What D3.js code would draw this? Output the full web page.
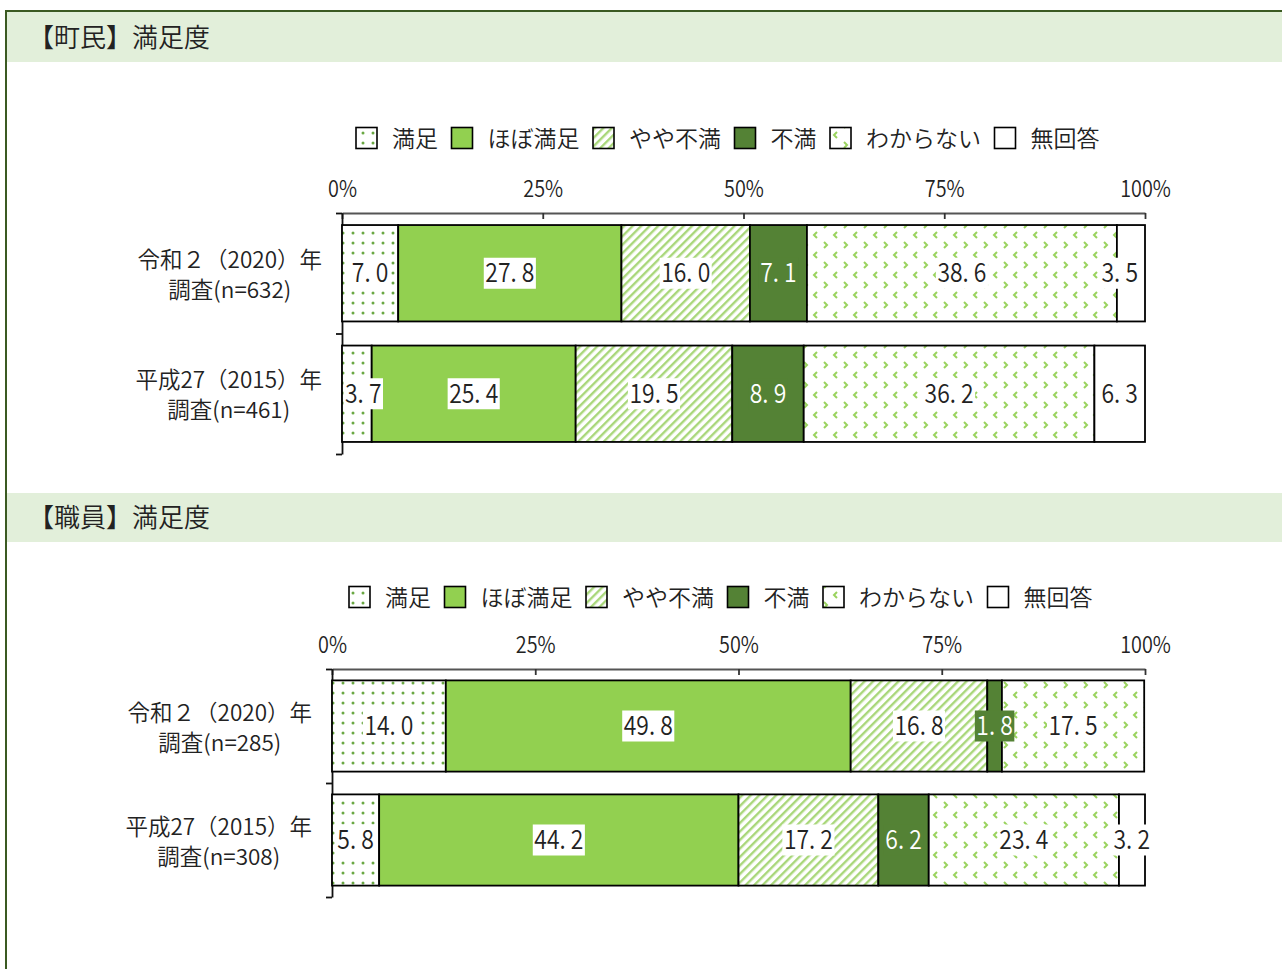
<!DOCTYPE html>
<html><head><meta charset="utf-8">
<script src="https://cdn.jsdelivr.net/npm/d3@7"></script>
<style>body{margin:0;background:#fff} text{font-weight:350}</style>
</head><body>
<svg id="c" width="1282" height="969"></svg>
<script>
// ---- data ----
const seriesNames = ["満足","ほぼ満足","やや不満","不満","わからない","無回答"];
const tickValues = [0,25,50,75,100];
const tickLabels = ["0%","25%","50%","75%","100%"];

const residentTitle = "【町民】満足度";
const residentCategories = [["令和２（2020）年","調査(n=632)"],["平成27（2015）年","調査(n=461)"]];
const resident2020 = [7.0,27.8,16.0,7.1,38.6,3.5];
const resident2015 = [3.7,25.4,19.5,8.9,36.2,6.3];

const staffTitle = "【職員】満足度";
const staffCategories = [["令和２（2020）年","調査(n=285)"],["平成27（2015）年","調査(n=308)"]];
const staff2020 = [14.0,49.8,16.8,1.8,17.5,0];
const staff2015 = [5.8,44.2,17.2,6.2,23.4,3.2];

// ---- styles ----
const FONT = "'Noto Sans CJK JP','Noto Sans',sans-serif";
const fills = ["url(#pDots)","#92d050","url(#pStripes)","#548235","url(#pChev)","#ffffff"];
const labelColor = ["#222","#222","#222","#fff","#222","#222"];
const labelBg = ["#fff","#fff","#fff","#548235","#fff","#fff"];

const svg = d3.select("#c");
const defs = svg.append("defs");
// dots
const pd = defs.append("pattern").attr("id","pDots").attr("patternUnits","userSpaceOnUse").attr("width",10).attr("height",10);
pd.append("rect").attr("width",10).attr("height",10).attr("fill","#fff");
pd.append("circle").attr("cx",3).attr("cy",3).attr("r",1.5).attr("fill","#6aa843");
// stripes
const ps = defs.append("pattern").attr("id","pStripes").attr("patternUnits","userSpaceOnUse").attr("width",6).attr("height",6)
  .attr("patternTransform","rotate(45)");
ps.append("rect").attr("width",6).attr("height",6).attr("fill","#fff");
ps.append("rect").attr("x",0).attr("width",2.4).attr("height",6).attr("fill","#a9d77a");
// chevrons
const pc = defs.append("pattern").attr("id","pChev").attr("patternUnits","userSpaceOnUse").attr("width",20).attr("height",20);
pc.append("rect").attr("width",20).attr("height",20).attr("fill","#fff");
pc.append("path").attr("d","M4,2 L7,5 L4,8").attr("fill","none").attr("stroke","#9ad35e").attr("stroke-width",2);
pc.append("path").attr("d","M17,12 L14,15 L17,18").attr("fill","none").attr("stroke","#9ad35e").attr("stroke-width",2);

// frame
svg.append("path").attr("d","M6,969 V11 H1282").attr("fill","none").attr("stroke","#3b5a22").attr("stroke-width",2);

function drawChart(cfg){
  const g = svg.append("g");
  // title band
  g.append("rect").attr("x",7).attr("y",cfg.bandY).attr("width",1275).attr("height",cfg.bandH).attr("fill","#e2efda");
  g.append("text").attr("x",28).attr("y",cfg.bandY+cfg.bandH/2+9.5).attr("font-family",FONT).attr("font-size",26)
    .attr("fill","#222").text(cfg.title);

  // legend
  let lx = cfg.legendX;
  seriesNames.forEach((n,i)=>{
    g.append("rect").attr("x",lx).attr("y",cfg.legendY-10.5).attr("width",21).attr("height",21)
      .attr("fill",fills[i]).attr("stroke","#000").attr("stroke-width",1.6);
    const t = g.append("text").attr("x",lx+36).attr("y",cfg.legendY+8.5).attr("font-family",FONT)
      .attr("font-size",23).attr("fill","#222").text(n);
    lx += 36 + t.node().getComputedTextLength() + 13.5;
  });

  const x = d3.scaleLinear().domain([0,100]).range([cfg.x0,cfg.x1]);
  const y = d3.scaleBand().domain(d3.range(cfg.values.length)).range([cfg.axisY,cfg.bottom]).paddingInner(0.2).paddingOuter(0.1);

  // top axis
  const ax = g.append("g").attr("transform",`translate(0,${cfg.axisY})`)
    .call(d3.axisTop(x).tickValues(tickValues).tickSize(-6).tickSizeOuter(0).tickFormat((d,i)=>tickLabels[i]));
  ax.select(".domain").attr("stroke","#555").attr("stroke-width",1.8);
  ax.selectAll(".tick line").attr("stroke","#333").attr("stroke-width",1.8);
  ax.selectAll(".tick text").attr("y",null).attr("dy",null).attr("transform","translate(0,-16) scale(0.86,1)")
    .attr("font-family",FONT).attr("font-size",23).attr("fill","#222").attr("text-anchor","middle");

  // left axis with boundary ticks
  const yb = d3.scaleLinear().domain([0,cfg.values.length]).range([cfg.axisY,cfg.bottom]);
  const ay = g.append("g").attr("transform",`translate(${cfg.x0},0)`)
    .call(d3.axisLeft(yb).tickValues(d3.range(cfg.values.length+1)).tickSize(6).tickSizeOuter(0).tickFormat(""));
  ay.select(".domain").attr("stroke","#111").attr("stroke-width",1.8);
  ay.selectAll(".tick line").attr("stroke","#111").attr("stroke-width",1.8);

  // bars
  cfg.values.forEach((vals,r)=>{
    let cum = 0;
    const segs = vals.map((v,i)=>{ const s={i,v,a:cum,b:cum+v}; cum+=v; return s; });
    const row = g.append("g");
    row.selectAll("rect").data(segs.filter(s=>s.v>0)).join("rect")
      .attr("x",s=>x(s.a)).attr("y",y(r)).attr("width",s=>x(s.b)-x(s.a)).attr("height",y.bandwidth())
      .attr("fill",s=>fills[s.i]).attr("stroke","#000").attr("stroke-width",1.8);
    const cy = y(r)+y.bandwidth()/2;
    segs.filter(s=>s.v>0).forEach(s=>{
      const txt = s.v.toFixed(1).replace(".",". ");
      let cx = (x(s.a)+x(s.b))/2;
      const lg = g.append("g");
      const sx = 0.85;
      const tt = lg.append("text").attr("font-family",FONT).attr("font-size",27).attr("text-anchor","middle")
        .attr("fill",labelColor[s.i]).text(txt);
      const w = tt.node().getComputedTextLength()*sx;
      if (cx - w/2 < cfg.x0 + 3) cx = cfg.x0 + 3 + w/2;
      if (cx + w/2 > cfg.labelMaxX) cx = cfg.labelMaxX - w/2;
      lg.attr("transform",`translate(${cx},${cy})`);
      tt.attr("transform",`translate(0,9) scale(${sx},1)`);
      lg.insert("rect","text").attr("x",-w/2-1.5).attr("y",-15.5).attr("width",w+3).attr("height",31).attr("fill",labelBg[s.i]);
    });
    // category labels
    const cat = cfg.categories[r];
    const t1 = g.append("text").attr("font-family",FONT).attr("font-size",22.5).attr("fill","#222")
      .attr("text-anchor","middle").attr("y",cy-14+8.5).text(cat[0]);
    const w1 = t1.node().getComputedTextLength();
    const ccx = cfg.x0 - 20 - w1/2;
    t1.attr("x",ccx);
    g.append("text").attr("font-family",FONT).attr("font-size",22.5).attr("fill","#222")
      .attr("text-anchor","middle").attr("x",ccx).attr("y",cy+16+8.5).text(cat[1]);
  });
}

drawChart({title:residentTitle,bandY:12,bandH:50,legendX:356,legendY:138,x0:342,x1:1145,axisY:213,bottom:454,labelMaxX:1138,
  categories:residentCategories,values:[resident2020,resident2015]});
drawChart({title:staffTitle,bandY:493,bandH:49,legendX:349,legendY:597,x0:332,x1:1145,axisY:669,bottom:897,labelMaxX:1150,
  categories:staffCategories,values:[staff2020,staff2015]});
</script>
</body></html>
